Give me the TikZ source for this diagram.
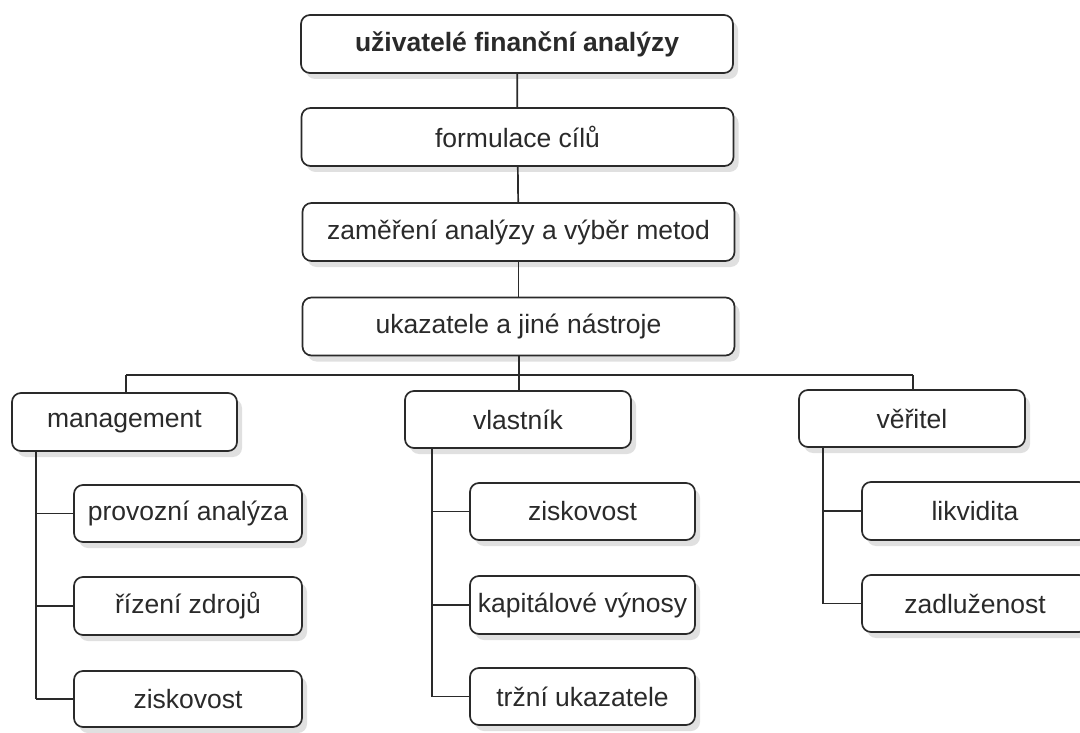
\documentclass[tikz,border=0pt]{standalone}
\usepackage{fontspec}
\setmainfont{Liberation Sans}
\usetikzlibrary{shadows}
\definecolor{ink}{HTML}{2A2A2A}
\tikzset{
  box/.style={draw=ink, line width=1.7pt, rounded corners=9pt, fill=white,
    text=ink, font=\fontsize{26.5}{30}\selectfont, inner sep=0pt,
    drop shadow={shadow xshift=5pt, shadow yshift=-6pt, fill=black!40, opacity=0.3}},
  wide/.style={box, minimum width=432pt, minimum height=58pt},
  sub/.style={box, minimum width=226pt, minimum height=57pt},
  link/.style={draw=ink, line width=1.7pt}
}
\begin{document}
\begin{tikzpicture}[x=1pt,y=-1pt]
\useasboundingbox (0,0) rectangle (1080,733);
\clip (0,0) rectangle (1080,733);
\fill[white] (0,0) rectangle (1080,733);

% main chain
\node[wide, font=\fontsize{26.5}{30}\selectfont\bfseries] (top) at (517,44) {uživatelé finanční analýzy};
\node[wide] (form) at (517.5,137) {formulace cílů};
\node[wide] (zam) at (518.5,232) {zaměření analýzy a výběr metod};
\node[wide] (uka) at (518.5,326.5) {ukazatele a jiné nástroje};

% second level
\node[sub, minimum width=225pt, minimum height=58pt] (mgmt) at (124.5,422) {management};
\node[sub] (vl) at (518,419.5) {vlastník};
\node[sub] (ve) at (912,418.5) {věřitel};

% management children
\node[sub, minimum width=228pt] (pa) at (188,513.5) {provozní analýza};
\node[sub, minimum width=228pt, minimum height=58pt] (rz) at (188,606) {řízení zdrojů};
\node[sub, minimum width=228pt, minimum height=56pt] (zi1) at (188,699) {ziskovost};

% vlastnik children
\node[sub, minimum width=225pt] (zi2) at (582.5,511.5) {ziskovost};
\node[sub, minimum width=225pt, minimum height=58pt] (kv) at (582.5,605) {kapitálové výnosy};
\node[sub, minimum width=225pt] (tu) at (582.5,696.5) {tržní ukazatele};

% veritel children
\node[sub, minimum height=58pt] (lk) at (975,511) {likvidita};
\node[sub] (zd) at (975,603.5) {zadluženost};

% bus coordinates
\coordinate (bus) at (519,375);
\coordinate (busL) at (126,375);
\coordinate (busR) at (913,375);
\coordinate (tm) at (36,0);
\coordinate (tv) at (432,0);
\coordinate (tr) at (823,0);

% connectors
\draw[link] (top) -- (form);
\draw[link] (form) -- (zam);
\draw[link] (zam) -- (uka);
\draw[link] (uka.south -| bus) -- (bus);
\draw[link] (busL) -- (busR);
\draw[link] (busL) -- (busL |- mgmt.north);
\draw[link] (bus) -- (bus |- vl.north);
\draw[link] (busR) -- (busR |- ve.north);

\draw[link] (tm |- mgmt.south) -- (tm |- zi1);
\draw[link] (tm |- pa) -- (pa.west);
\draw[link] (tm |- rz) -- (rz.west);
\draw[link] (tm |- zi1) -- (zi1.west);

\draw[link] (tv |- vl.south) -- (tv |- tu);
\draw[link] (tv |- zi2) -- (zi2.west);
\draw[link] (tv |- kv) -- (kv.west);
\draw[link] (tv |- tu) -- (tu.west);

\draw[link] (tr |- ve.south) -- (tr |- zd);
\draw[link] (tr |- lk) -- (lk.west);
\draw[link] (tr |- zd) -- (zd.west);
\end{tikzpicture}
\end{document}
